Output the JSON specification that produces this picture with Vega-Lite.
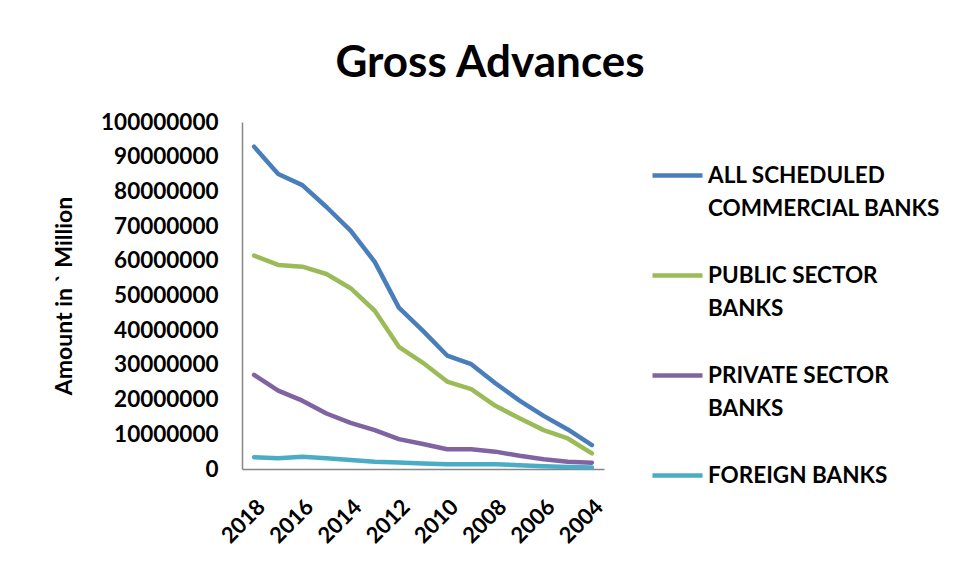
{
  "$schema": "https://vega.github.io/schema/vega-lite/v6.json",
  "width": 362,
  "height": 347,
  "autosize": {"type": "none"},
  "padding": {"left": 242, "top": 122, "right": 356, "bottom": 109},
  "background": "white",
  "title": {
    "text": "Gross Advances",
    "font": "Lato",
    "fontSize": 44,
    "fontWeight": "bold",
    "color": "#000000",
    "anchor": "middle",
    "dx": 67,
    "offset": 25
  },
  "config": {
    "view": {"stroke": null},
    "font": "Lato",
    "style": {"guide-label": {"lineHeight": 33}}
  },
  "data": {
    "values": [
      {"year": 2018, "series": "ALL SCHEDULED COMMERCIAL BANKS", "amount": 92900000},
      {"year": 2017, "series": "ALL SCHEDULED COMMERCIAL BANKS", "amount": 85000000},
      {"year": 2016, "series": "ALL SCHEDULED COMMERCIAL BANKS", "amount": 81800000},
      {"year": 2015, "series": "ALL SCHEDULED COMMERCIAL BANKS", "amount": 75500000},
      {"year": 2014, "series": "ALL SCHEDULED COMMERCIAL BANKS", "amount": 68700000},
      {"year": 2013, "series": "ALL SCHEDULED COMMERCIAL BANKS", "amount": 59700000},
      {"year": 2012, "series": "ALL SCHEDULED COMMERCIAL BANKS", "amount": 46500000},
      {"year": 2011, "series": "ALL SCHEDULED COMMERCIAL BANKS", "amount": 39800000},
      {"year": 2010, "series": "ALL SCHEDULED COMMERCIAL BANKS", "amount": 32700000},
      {"year": 2009, "series": "ALL SCHEDULED COMMERCIAL BANKS", "amount": 30200000},
      {"year": 2008, "series": "ALL SCHEDULED COMMERCIAL BANKS", "amount": 24700000},
      {"year": 2007, "series": "ALL SCHEDULED COMMERCIAL BANKS", "amount": 19700000},
      {"year": 2006, "series": "ALL SCHEDULED COMMERCIAL BANKS", "amount": 15300000},
      {"year": 2005, "series": "ALL SCHEDULED COMMERCIAL BANKS", "amount": 11400000},
      {"year": 2004, "series": "ALL SCHEDULED COMMERCIAL BANKS", "amount": 6900000},
      {"year": 2018, "series": "PUBLIC SECTOR BANKS", "amount": 61500000},
      {"year": 2017, "series": "PUBLIC SECTOR BANKS", "amount": 58800000},
      {"year": 2016, "series": "PUBLIC SECTOR BANKS", "amount": 58300000},
      {"year": 2015, "series": "PUBLIC SECTOR BANKS", "amount": 56200000},
      {"year": 2014, "series": "PUBLIC SECTOR BANKS", "amount": 52100000},
      {"year": 2013, "series": "PUBLIC SECTOR BANKS", "amount": 45600000},
      {"year": 2012, "series": "PUBLIC SECTOR BANKS", "amount": 35200000},
      {"year": 2011, "series": "PUBLIC SECTOR BANKS", "amount": 30600000},
      {"year": 2010, "series": "PUBLIC SECTOR BANKS", "amount": 25200000},
      {"year": 2009, "series": "PUBLIC SECTOR BANKS", "amount": 23000000},
      {"year": 2008, "series": "PUBLIC SECTOR BANKS", "amount": 18200000},
      {"year": 2007, "series": "PUBLIC SECTOR BANKS", "amount": 14600000},
      {"year": 2006, "series": "PUBLIC SECTOR BANKS", "amount": 11200000},
      {"year": 2005, "series": "PUBLIC SECTOR BANKS", "amount": 8800000},
      {"year": 2004, "series": "PUBLIC SECTOR BANKS", "amount": 4500000},
      {"year": 2018, "series": "PRIVATE SECTOR BANKS", "amount": 27100000},
      {"year": 2017, "series": "PRIVATE SECTOR BANKS", "amount": 22600000},
      {"year": 2016, "series": "PRIVATE SECTOR BANKS", "amount": 19700000},
      {"year": 2015, "series": "PRIVATE SECTOR BANKS", "amount": 16000000},
      {"year": 2014, "series": "PRIVATE SECTOR BANKS", "amount": 13300000},
      {"year": 2013, "series": "PRIVATE SECTOR BANKS", "amount": 11200000},
      {"year": 2012, "series": "PRIVATE SECTOR BANKS", "amount": 8600000},
      {"year": 2011, "series": "PRIVATE SECTOR BANKS", "amount": 7200000},
      {"year": 2010, "series": "PRIVATE SECTOR BANKS", "amount": 5700000},
      {"year": 2009, "series": "PRIVATE SECTOR BANKS", "amount": 5700000},
      {"year": 2008, "series": "PRIVATE SECTOR BANKS", "amount": 5000000},
      {"year": 2007, "series": "PRIVATE SECTOR BANKS", "amount": 3800000},
      {"year": 2006, "series": "PRIVATE SECTOR BANKS", "amount": 2800000},
      {"year": 2005, "series": "PRIVATE SECTOR BANKS", "amount": 2100000},
      {"year": 2004, "series": "PRIVATE SECTOR BANKS", "amount": 1800000},
      {"year": 2018, "series": "FOREIGN BANKS", "amount": 3400000},
      {"year": 2017, "series": "FOREIGN BANKS", "amount": 3100000},
      {"year": 2016, "series": "FOREIGN BANKS", "amount": 3500000},
      {"year": 2015, "series": "FOREIGN BANKS", "amount": 3100000},
      {"year": 2014, "series": "FOREIGN BANKS", "amount": 2600000},
      {"year": 2013, "series": "FOREIGN BANKS", "amount": 2100000},
      {"year": 2012, "series": "FOREIGN BANKS", "amount": 1900000},
      {"year": 2011, "series": "FOREIGN BANKS", "amount": 1600000},
      {"year": 2010, "series": "FOREIGN BANKS", "amount": 1400000},
      {"year": 2009, "series": "FOREIGN BANKS", "amount": 1400000},
      {"year": 2008, "series": "FOREIGN BANKS", "amount": 1350000},
      {"year": 2007, "series": "FOREIGN BANKS", "amount": 1100000},
      {"year": 2006, "series": "FOREIGN BANKS", "amount": 800000},
      {"year": 2005, "series": "FOREIGN BANKS", "amount": 600000},
      {"year": 2004, "series": "FOREIGN BANKS", "amount": 400000}
    ]
  },
  "mark": {"type": "line", "strokeWidth": 4.5, "strokeCap": "round", "strokeJoin": "round"},
  "encoding": {
    "x": {
      "field": "year",
      "type": "ordinal",
      "sort": "descending",
      "scale": {"type": "point", "padding": 0.5},
      "axis": {
        "title": null,
        "values": [2018, 2016, 2014, 2012, 2010, 2008, 2006, 2004],
        "labelAngle": -45,
        "labelFont": "Lato",
        "labelFontSize": 22,
        "labelFontWeight": "bold",
        "labelColor": "#000000",
        "labelPadding": 27,
        "labelDx": -11,
        "ticks": false,
        "domainColor": "#868686",
        "domainWidth": 1.5,
        "grid": false
      }
    },
    "y": {
      "field": "amount",
      "type": "quantitative",
      "scale": {"domain": [0, 100000000], "nice": false},
      "axis": {
        "title": "Amount in ` Million",
        "titleFont": "Lato",
        "titleFontSize": 23,
        "titleFontWeight": "bold",
        "titleColor": "#000000",
        "titlePadding": 24,
        "values": [0, 10000000, 20000000, 30000000, 40000000, 50000000, 60000000, 70000000, 80000000, 90000000, 100000000],
        "format": "d",
        "labelFont": "Lato",
        "labelFontSize": 22.5,
        "labelFontWeight": "bold",
        "labelColor": "#000000",
        "labelPadding": 24,
        "ticks": false,
        "domainColor": "#868686",
        "domainWidth": 1.5,
        "grid": false
      }
    },
    "color": {
      "field": "series",
      "type": "nominal",
      "scale": {
        "domain": ["ALL SCHEDULED COMMERCIAL BANKS", "PUBLIC SECTOR BANKS", "PRIVATE SECTOR BANKS", "FOREIGN BANKS"],
        "range": ["#4A7EBB", "#9BBB59", "#8064A2", "#4BACC6"]
      },
      "legend": {
        "title": null,
        "orient": "none",
        "legendX": 408,
        "legendY": 26,
        "symbolType": "stroke",
        "symbolSize": 2500,
        "symbolStrokeWidth": 4.5,
        "labelFont": "Lato",
        "labelFontSize": 22.5,
        "labelFontWeight": "bold",
        "labelColor": "#000000",
        "labelOffset": 3,
        "labelLimit": 300,
        "labelBaseline": "middle",
        "labelExpr": "datum.label == 'ALL SCHEDULED COMMERCIAL BANKS' ? ['ALL SCHEDULED', 'COMMERCIAL BANKS'] : datum.label == 'PUBLIC SECTOR BANKS' ? ['PUBLIC SECTOR', 'BANKS'] : datum.label == 'PRIVATE SECTOR BANKS' ? ['PRIVATE SECTOR', 'BANKS'] : datum.label",
        "rowPadding": 28
      }
    }
  }
}
